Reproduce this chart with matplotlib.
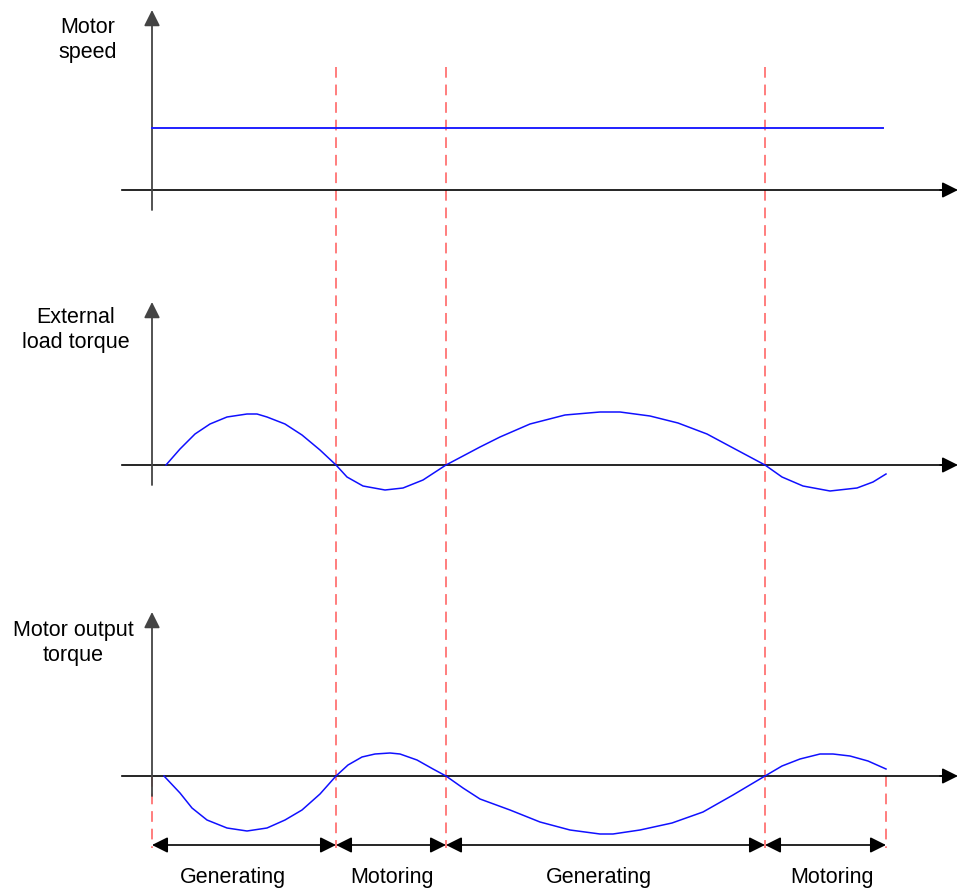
import matplotlib.pyplot as plt

plt.rcParams['font.family'] = ['Liberation Sans', 'DejaVu Sans']

# Kurvenpunkte (x in Bildpixel, Wert = Auslenkung über der Nulllinie)
speed_level = 62

load_t = [166, 180, 195, 210, 227, 247, 257, 267, 285, 302, 320, 336, 347, 363, 385,
          403, 423, 446, 480, 500, 530, 565, 600, 620, 650, 678, 707, 735, 765, 782,
          803, 830, 857, 873, 886]
load_val = [0, 16, 31, 41, 48, 51, 51, 48, 41, 30, 15, 0, -12, -21, -25,
            -23, -15, 0, 18, 28, 41, 50, 53, 53, 49, 42, 31, 16, 0, -12,
            -21, -26, -23, -17, -9]

motor_t = [164, 180, 192, 207, 227, 247, 267, 285, 302, 320, 336, 348, 362, 375, 390,
           400, 417, 433, 446, 463, 480, 510, 540, 570, 600, 613, 640, 672, 703, 733,
           765, 782, 800, 820, 833, 850, 868, 886]
motor_val = [0, -17, -32, -44, -52, -55, -52, -44, -34, -18, 0, 11, 19, 22, 23,
             22, 16, 7, 0, -12, -23, -34, -46, -54, -58, -58, -54, -47, -36, -19,
             0, 10, 17, 22, 22, 20, 15, 7]

# Phasengrenzen und Beschriftung
bounds = [152, 336, 446, 765, 886]
phases = ["Generating", "Motoring", "Generating", "Motoring"]
phase_text_x = [233, 392, 599, 832]

panel_titles = ["Motor\nspeed", "External\nload torque", "Motor output\ntorque"]

# Layout
baselines = [190, 465, 776]
tops = [10, 302, 612]
title_pos = [(88, 40), (76, 330), (73, 643)]
x_axis = 152

fig = plt.figure(figsize=(9.58, 8.92), dpi=100)
ax = fig.add_axes([0, 0, 1, 1])
ax.set_xlim(0, 958)
ax.set_ylim(892, 0)
ax.axis('off')

red = '#ff5a5a'
for i, b in enumerate(bounds):
    if i in (0, len(bounds) - 1):
        y0 = baselines[2]
    else:
        y0 = 67
    ax.plot([b, b], [y0, 848], color=red, lw=1.1, linestyle=(0, (7, 4.5)), zorder=1)

# Achsen
for base, top, title, tp in zip(baselines, tops, panel_titles, title_pos):
    ax.plot([122, 945], [base, base], color='black', lw=1.2, zorder=2)
    ax.annotate('', xy=(958, base), xytext=(940, base),
                arrowprops=dict(arrowstyle='-|>', mutation_scale=24, color='black',
                                lw=1.2, shrinkA=0, shrinkB=0))
    ax.annotate('', xy=(x_axis, top), xytext=(x_axis, base + 20),
                arrowprops=dict(arrowstyle='-|>', mutation_scale=24, color='#444444',
                                lw=1.3, shrinkA=0, shrinkB=0), zorder=2)
    ax.text(tp[0], tp[1], title, ha='center', va='center', fontsize=15.5,
            multialignment='center', linespacing=1.3)

# Kurven
ax.plot([x_axis, 883], [baselines[0] - speed_level] * 2, color='#2020ff', lw=1.4, zorder=3)
ax.plot(load_t, [baselines[1] - v for v in load_val], color='#1010ff', lw=1.1, zorder=3)
ax.plot(motor_t, [baselines[2] - v for v in motor_val], color='#1010ff', lw=1.1, zorder=3)

# Bereichspfeile
for a, b, name, tx in zip(bounds[:-1], bounds[1:], phases, phase_text_x):
    ax.annotate('', xy=(b, 845), xytext=(a, 845),
                arrowprops=dict(arrowstyle='<|-|>', mutation_scale=24, color='black',
                                lw=1.2, shrinkA=0, shrinkB=0))
    ax.text(tx, 877, name, ha='center', va='center', fontsize=15.5)

fig.savefig("out.png", dpi=100)
